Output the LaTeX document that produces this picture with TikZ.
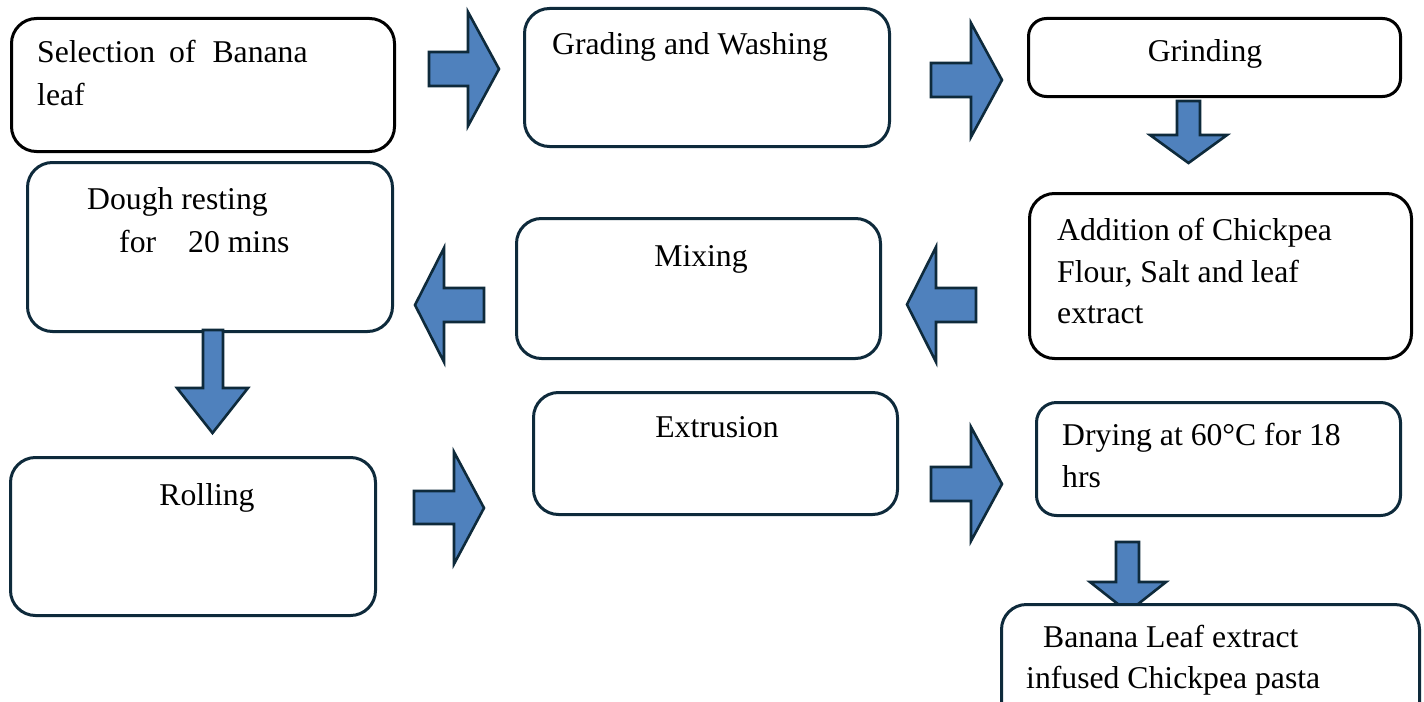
\documentclass[tikz,border=0pt]{standalone}
\usepackage{fontspec}
\setmainfont{Liberation Serif}
\definecolor{navy}{HTML}{0E2A3B}
\definecolor{ablue}{HTML}{4F81BD}
\begin{document}
\begin{tikzpicture}[x=1bp,y=-1bp,
  box/.style={draw=navy, line width=3bp, rounded corners=25bp, fill=white, inner sep=0pt, anchor=north west},
  kbox/.style={box, draw=black},
  barrow/.style={draw=navy, fill=ablue, line width=2.6bp, line join=miter},
  txt/.style={font=\fontsize{31.7bp}{42bp}\selectfont, inner sep=0pt, text=black},
]
\useasboundingbox (0,0) rectangle (1424,702);
\clip (0,0) rectangle (1424,702);
\fill[white] (0,0) rectangle (1424,702);

% ---- boxes ----
\node[kbox, minimum width=383bp, minimum height=133bp] (b1) at (10,17) {};
\node[box,  minimum width=365bp, minimum height=138bp] (b2) at (523,7) {};
\node[kbox, rounded corners=18bp, minimum width=372bp, minimum height=78bp] (b3) at (1027,17) {};
\node[kbox, minimum width=382bp, minimum height=165bp] (b4) at (1028,192) {};
\node[box,  minimum width=364bp, minimum height=140bp] (b5) at (515,217) {};
\node[box,  minimum width=365bp, minimum height=169bp] (b6) at (26,161) {};
\node[box,  minimum width=365bp, minimum height=158bp] (b7) at (9,456) {};
\node[box,  minimum width=364bp, minimum height=122bp] (b8) at (532,391) {};
\node[box,  rounded corners=20bp, minimum width=364bp, minimum height=113bp] (b9) at (1035,401) {};

% ---- block arrows ----
% Selection -> Grading
\draw[barrow] (429,52) -- (468,52) -- (468,12) -- (499,69) -- (468,126) -- (468,86) -- (429,86) -- cycle;
% Grading -> Grinding
\draw[barrow] (931,63) -- (971,63) -- (971,23) -- (1002,80) -- (971,137) -- (971,97) -- (931,97) -- cycle;
% Grinding -> Addition
\draw[barrow] (1177,101) -- (1200,101) -- (1200,135) -- (1227,135) -- (1188.5,163) -- (1150,135) -- (1177,135) -- cycle;
% Addition -> Mixing
\draw[barrow] (976,288) -- (936,288) -- (936,247) -- (907,304.5) -- (936,362) -- (936,322) -- (976,322) -- cycle;
% Mixing -> Dough
\draw[barrow] (484,288) -- (444,288) -- (444,248) -- (415,305) -- (444,362) -- (444,322) -- (484,322) -- cycle;
% Dough -> Rolling
\draw[barrow] (203,330) -- (223,330) -- (223,388) -- (248,388) -- (212.5,433) -- (177,388) -- (203,388) -- cycle;
% Rolling -> Extrusion
\draw[barrow] (414,491) -- (454,491) -- (454,452) -- (484,508) -- (454,564) -- (454,524) -- (414,524) -- cycle;
% Extrusion -> Drying
\draw[barrow] (931,467) -- (971,467) -- (971,427) -- (1002,484) -- (971,541) -- (971,501) -- (931,501) -- cycle;
% Drying -> Final
\draw[barrow] (1116,542) -- (1139,542) -- (1139,582) -- (1166,582) -- (1128,612) -- (1090,582) -- (1116,582) -- cycle;

\node[box, minimum width=418bp, minimum height=130bp] (b10) at (1000,603) {};

% ---- texts ----
\node[txt, anchor=base west] (t1a) at (37,63) {Selection\hspace{14bp}of\hspace{17bp}Banana};
\node[txt, anchor=base west] (t1b) at (37,106) {leaf};
\node[txt, anchor=base west] (t2) at (552,55) {Grading and Washing};
\node[txt, anchor=base] (t3) at (1205,62) {Grinding};
\node[txt, anchor=base west] (t4a) at (1057,240) {Addition of Chickpea};
\node[txt, anchor=base west] (t4b) at (1057,282) {Flour, Salt and leaf};
\node[txt, anchor=base west] (t4c) at (1057,323) {extract};
\node[txt, anchor=base] (t5) at (701,266) {Mixing};
\node[txt, anchor=base west] (t6a) at (87,209) {Dough resting};
\node[txt, anchor=base west] (t6b) at (119,252) {for};
\node[txt, anchor=base west] (t6c) at (188,252) {20 mins};
\node[txt, anchor=base] (t7) at (207,505) {Rolling};
\node[txt, anchor=base] (t8) at (717,437) {Extrusion};
\node[txt, anchor=base west] (t9a) at (1062,445) {Drying at 60°C for 18};
\node[txt, anchor=base west] (t9b) at (1062,487) {hrs};
\node[txt, anchor=base west] (t10a) at (1043,647) {Banana Leaf extract};
\node[txt, anchor=base west] (t10b) at (1026,688) {infused Chickpea pasta};
\end{tikzpicture}
\end{document}
